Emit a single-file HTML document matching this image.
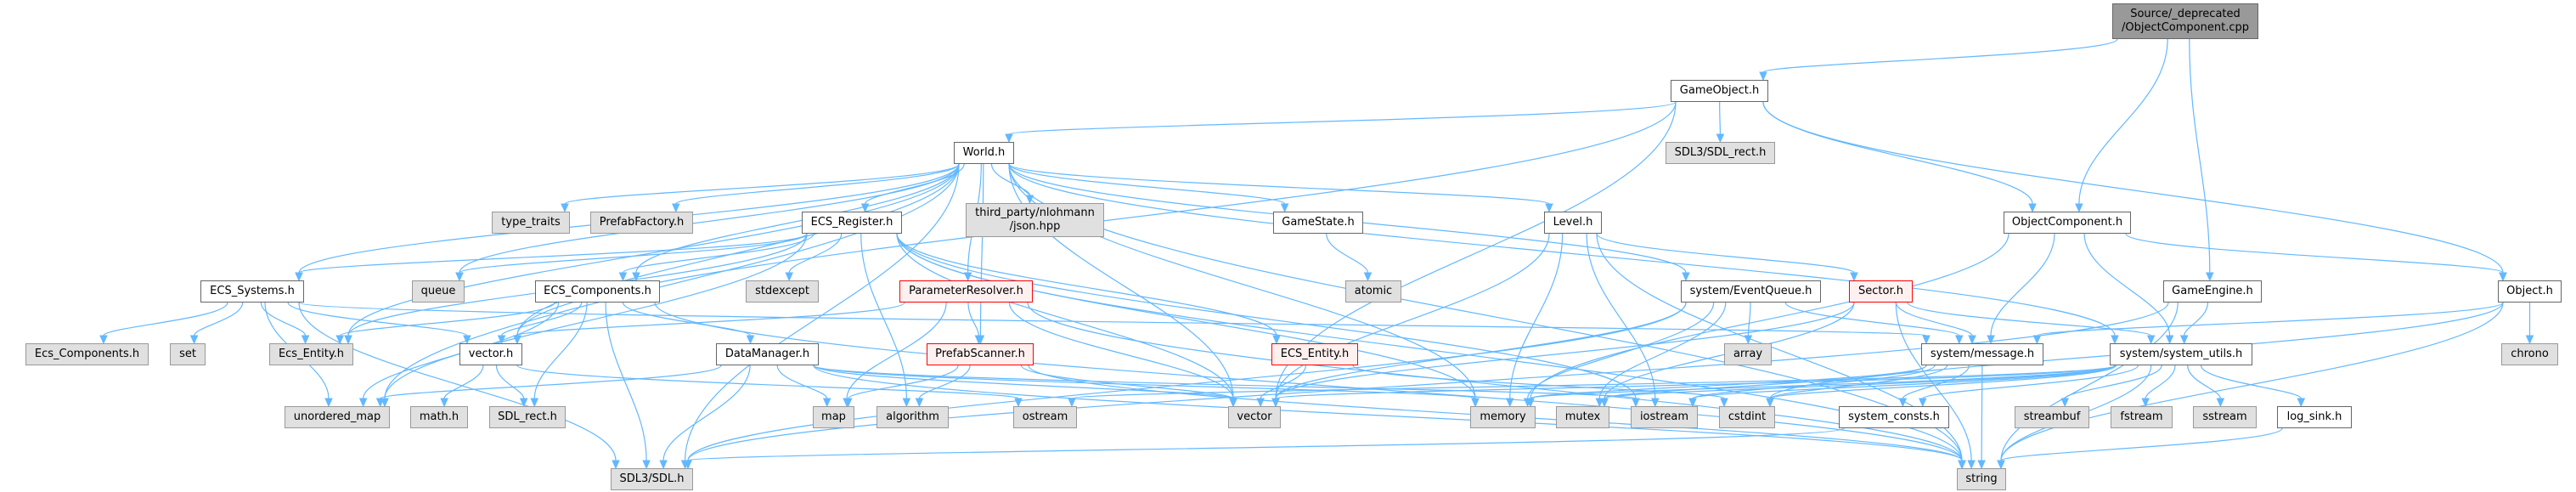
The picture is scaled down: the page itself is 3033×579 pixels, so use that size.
<!DOCTYPE html>
<html><head><meta charset="utf-8">
<style>
html,body{margin:0;padding:0;background:#fff;}
#c{position:relative;width:3033px;height:579px;overflow:hidden;background:#fff;}
.n{position:absolute;box-sizing:border-box;border:1px solid #666;background:#fff;font-family:"DejaVu Sans","Liberation Sans",sans-serif;font-size:13px;color:#000;text-align:center;display:flex;align-items:center;justify-content:center;line-height:16px;white-space:nowrap;height:26px;z-index:2}
.g{background:#e0e0e0;border-color:#999;}
.r{background:#fff0f0;border-color:#f00;}
.s{background:#999;border-color:#666;}
svg{position:absolute;left:0;top:0;z-index:1}
</style></head><body>
<div id="c">
<svg id="sv" width="3033" height="579"></svg>
<div class="n s" id="src" style="left:2487px;top:4px;width:172px;height:42px">Source/_deprecated<br>/ObjectComponent.cpp</div>
<div class="n" id="GO" style="left:1967px;top:94px;width:115px">GameObject.h</div>
<div class="n" id="W" style="left:1123px;top:167px;width:71px">World.h</div>
<div class="n g" id="SR3" style="left:1961px;top:167px;width:129px">SDL3/SDL_rect.h</div>
<div class="n g" id="TT" style="left:579px;top:249px;width:92px">type_traits</div>
<div class="n g" id="PF" style="left:695px;top:249px;width:121px">PrefabFactory.h</div>
<div class="n" id="ER" style="left:944px;top:249px;width:118px">ECS_Register.h</div>
<div class="n g" id="JS" style="left:1137px;top:239px;width:163px;height:40px">third_party/nlohmann<br>/json.hpp</div>
<div class="n" id="GS" style="left:1499px;top:249px;width:106px">GameState.h</div>
<div class="n" id="LV" style="left:1818px;top:249px;width:68px">Level.h</div>
<div class="n" id="OC" style="left:2359px;top:249px;width:150px">ObjectComponent.h</div>
<div class="n" id="ES" style="left:236px;top:330px;width:122px">ECS_Systems.h</div>
<div class="n g" id="Q" style="left:485px;top:330px;width:62px">queue</div>
<div class="n" id="EC" style="left:630px;top:330px;width:147px">ECS_Components.h</div>
<div class="n g" id="SE" style="left:878px;top:330px;width:86px">stdexcept</div>
<div class="n r" id="PR" style="left:1059px;top:330px;width:157px">ParameterResolver.h</div>
<div class="n g" id="AT" style="left:1584px;top:330px;width:66px">atomic</div>
<div class="n" id="EQ" style="left:1979px;top:330px;width:165px">system/EventQueue.h</div>
<div class="n r" id="SC" style="left:2177px;top:330px;width:75px">Sector.h</div>
<div class="n" id="GE" style="left:2547px;top:330px;width:116px">GameEngine.h</div>
<div class="n" id="OB" style="left:2941px;top:330px;width:75px">Object.h</div>
<div class="n g" id="ECL" style="left:30px;top:404px;width:145px">Ecs_Components.h</div>
<div class="n g" id="SET" style="left:200px;top:404px;width:42px">set</div>
<div class="n g" id="EEL" style="left:317px;top:404px;width:99px">Ecs_Entity.h</div>
<div class="n" id="VH" style="left:541px;top:404px;width:74px">vector.h</div>
<div class="n" id="DM" style="left:843px;top:404px;width:121px">DataManager.h</div>
<div class="n r" id="PS" style="left:1091px;top:404px;width:126px">PrefabScanner.h</div>
<div class="n r" id="EE" style="left:1497px;top:404px;width:102px">ECS_Entity.h</div>
<div class="n g" id="AR" style="left:2030px;top:404px;width:56px">array</div>
<div class="n" id="MS" style="left:2262px;top:404px;width:144px">system/message.h</div>
<div class="n" id="SU" style="left:2484px;top:404px;width:168px">system/system_utils.h</div>
<div class="n g" id="CH" style="left:2945px;top:404px;width:67px">chrono</div>
<div class="n g" id="UM" style="left:335px;top:478px;width:124px">unordered_map</div>
<div class="n g" id="MH" style="left:483px;top:478px;width:68px">math.h</div>
<div class="n g" id="SRH" style="left:576px;top:478px;width:90px">SDL_rect.h</div>
<div class="n g" id="MP" style="left:957px;top:478px;width:49px">map</div>
<div class="n g" id="AL" style="left:1032px;top:478px;width:85px">algorithm</div>
<div class="n g" id="OS" style="left:1193px;top:478px;width:75px">ostream</div>
<div class="n g" id="V" style="left:1446px;top:478px;width:62px">vector</div>
<div class="n g" id="MEM" style="left:1731px;top:478px;width:77px">memory</div>
<div class="n g" id="MX" style="left:1832px;top:478px;width:63px">mutex</div>
<div class="n g" id="IO" style="left:1920px;top:478px;width:79px">iostream</div>
<div class="n g" id="CI" style="left:2024px;top:478px;width:66px">cstdint</div>
<div class="n" id="SCO" style="left:2165px;top:478px;width:130px">system_consts.h</div>
<div class="n g" id="SB" style="left:2372px;top:478px;width:88px">streambuf</div>
<div class="n g" id="FS" style="left:2485px;top:478px;width:73px">fstream</div>
<div class="n g" id="SS" style="left:2582px;top:478px;width:75px">sstream</div>
<div class="n" id="LS" style="left:2681px;top:478px;width:88px">log_sink.h</div>
<div class="n g" id="SDL" style="left:719px;top:551px;width:97px">SDL3/SDL.h</div>
<div class="n g" id="STR" style="left:2304px;top:551px;width:58px">string</div>
</div>
<script>
(function(){
var E={
src:["GO","OC","GE"],
GO:["W","VH","V","SR3","OC","OB"],
W:["ES","TT","PF","ER","Q","EC","EEL","UM","SDL","JS","PR","PS","V","MEM","GS","LV","EQ","SU","STR","VH"],
ER:["ES","Q","EC","SE","EEL","UM","AL","V","MEM","EE","IO","STR"],
ES:["ECL","SET","EEL","VH","UM","SDL","MS"],
EC:["EEL","VH","UM","SRH","SDL","DM","STR"],
VH:["MH","SRH","OS"],
DM:["UM","SDL","MP","V","MEM","STR","IO"],
PR:["VH","MP","PS","V","STR"],
PS:["MP","AL","V","STR"],
GS:["AT"],
LV:["SC","MEM","V","IO","STR"],
EE:["V","CI"],
EQ:["AR","MS","V","MX","MEM","SDL"],
SC:["MS","SU","V","MX","STR"],
OC:["MS","SU","OB","MEM"],
GE:["SU","STR","SDL"],
OB:["MS","CH","STR","CI"],
MS:["CI","STR","SCO","MX","IO","MEM"],
SU:["SB","FS","SS","LS","SCO","STR","CI","MX","IO","MEM","V","OS"],
SCO:["SDL"],
LS:["STR"]};
function b(id){var e=document.getElementById(id);return {x:e.offsetLeft,y:e.offsetTop,w:e.offsetWidth,h:e.offsetHeight};}
var s="",C="#63b8ff";
for(var a in E){var A=b(a);E[a].forEach(function(t){var B=b(t);
 var ax=A.x+A.w/2,bx=B.x+B.w/2,x1,y1,x2,y2,p;
 if(B.y>A.y+A.h-2){
  x1=Math.max(A.x+6,Math.min(A.x+A.w-6,ax+(bx-ax)*0.15));y1=A.y+A.h;
  x2=Math.max(B.x+6,Math.min(B.x+B.w-6,bx+(ax-bx)*0.1));y2=B.y;
  var dy=y2-y1;
  p="M"+x1+","+y1+" C"+x1+","+(y1+dy*0.4)+" "+x2+","+(y2-dy*0.4)+" "+x2+","+(y2-9);
  var ang=Math.PI/2;
 }else{
  var r=bx<ax; x1=r?A.x:A.x+A.w; y1=A.y+A.h/2; x2=r?B.x+B.w:B.x; y2=B.y+B.h/2;
  var d=r?9:-9;
  p="M"+x1+","+y1+" C"+((x1+x2)/2)+","+y1+" "+((x1+x2)/2)+","+y2+" "+(x2+d)+","+y2;
  var ang=r?Math.PI:0;
 }
 s+='<path d="'+p+'" fill="none" stroke="'+C+'" stroke-width="1.2"/>';
 var ex=x2,ey=y2,bx2=ex-9*Math.cos(ang),by2=ey-9*Math.sin(ang),px=-Math.sin(ang)*4,py=Math.cos(ang)*4;
 s+='<polygon points="'+ex+','+ey+' '+(bx2+px)+','+(by2+py)+' '+(bx2-px)+','+(by2-py)+'" fill="'+C+'" stroke="'+C+'"/>';
});}
document.getElementById("sv").innerHTML=s;
})();
</script>
</body></html>
